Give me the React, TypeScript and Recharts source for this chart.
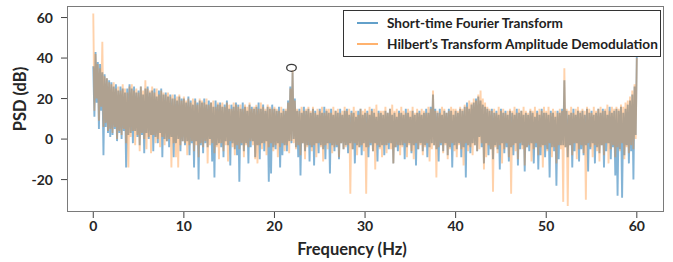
import { ComposedChart, Line, XAxis, YAxis, ReferenceDot } from 'recharts'

// PSD values (dB). "Hi" samples sit on a 0.25 Hz grid, "Lo" samples halfway between them.
const stftHi = [
  36, 43, 38, 37, 33, 32, 30, 29,
  28, 26, 27, 24, 26, 25, 23, 25,
  27, 25, 26, 23, 24, 26, 22, 25,
  26, 23, 24, 25, 21, 24, 25, 22,
  23, 21, 22, 20, 22, 19, 21, 20,
  20, 18, 21, 19, 17, 20, 18, 19,
  18, 20, 17, 19, 18, 16, 19, 17,
  18, 16, 17, 19, 15, 17, 16, 18,
  17, 15, 18, 16, 14, 17, 16, 15,
  16, 18, 15, 17, 14, 16, 15, 17,
  15, 14, 16, 13, 15, 14, 19, 26,
  33, 20, 14, 15, 13, 16, 14, 15,
  13, 15, 14, 12, 15, 13, 16, 14,
  13, 15, 12, 14, 13, 15, 12, 14,
  15, 12, 14, 13, 11, 14, 15, 12,
  13, 14, 12, 15, 13, 11, 14, 13,
  12, 14, 13, 15, 12, 13, 11, 14,
  13, 12, 15, 13, 11, 14, 12, 13,
  14, 12, 13, 15, 13, 16, 22, 15,
  13, 15, 12, 14, 13, 15, 14, 12,
  14, 13, 15, 14, 16, 18, 15, 17,
  18, 20, 21, 19, 17, 16, 15, 14,
  15, 13, 14, 12, 15, 13, 14, 12,
  14, 13, 12, 15, 13, 14, 12, 13,
  12, 14, 13, 11, 14, 12, 15, 13,
  13, 12, 14, 13, 11, 14, 13, 15,
  29, 14, 12, 13, 15, 12, 14, 13,
  14, 12, 15, 13, 14, 12, 13, 15,
  13, 15, 14, 12, 16, 13, 14, 15,
  14, 16, 13, 15, 17, 19, 22, 26,
  41,
]

const stftLo = [
  11, 18, 5, 14, -8, 6, 3, 1,
  2, 5, -1, 3, 0, 4, -14, 2,
  3, -2, 4, 1, -3, 2, -7, 3,
  0, 2, -6, 1, -2, 3, -9, 0,
  -1, -4, 1, -9, -2, 0, -6, -1,
  -3, -1, -8, -2, -14, -1, -20, -3,
  -7, -2, -4, 0, -11, -19, -3, -2,
  -4, -9, -1, -3, -13, -2, -5, -8,
  -21, -3, -6, -2, -12, -4, -1, -9,
  -3, -10, -2, -6, -1, -21, -17, -4,
  -5, -2, -14, -8, -3, -6, -1, -2,
  0, -4, -9, -18, -2, -6, -3, -11,
  -4, -13, -2, -7, -3, -5, -10, -2,
  -17, -3, -6, -4, -10, -2, -5, -3,
  -7, -2, -5, -12, -3, -4, -8, -2,
  -4, -9, -3, -6, -2, -11, -4, -3,
  -8, -3, -5, -2, -12, -4, -6, -3,
  -3, -10, -4, -2, -7, -3, -13, -5,
  -2, -6, -3, -9, -4, -2, -3, -5,
  -11, -3, -6, -2, -8, -4, -14, -3,
  -5, -2, -9, -4, -19, -3, -7, -2,
  -3, -6, 1, -4, -12, -2, -8, -5,
  -10, -3, -5, -15, -2, -7, -4, -11,
  -4, -8, -2, -13, -5, -3, -16, -4,
  -6, -2, -12, -4, -15, -8, -3, -9,
  -5, -19, -4, -6, -23, -10, -3, -3,
  -4, -9, -3, -14, -6, -2, -11, -5,
  -8, -3, -16, -5, -2, -12, -4, -7,
  -3, -14, -6, -2, -10, -4, -18, -28,
  -5, -29, -8, -3, -12, -6, -20, 2,
]

const hilbertHi = [
  62, 42, 37, 35, 48, 31, 30, 28,
  27, 28, 25, 26, 24, 27, 25, 23,
  26, 27, 24, 25, 23, 26, 24, 29,
  25, 24, 26, 23, 25, 22, 24, 23,
  22, 23, 21, 22, 20, 21, 22, 19,
  21, 19, 20, 18, 20, 19, 17, 20,
  19, 18, 20, 17, 18, 19, 16, 18,
  17, 18, 16, 18, 17, 15, 18, 17,
  16, 17, 15, 17, 16, 18, 15, 16,
  17, 15, 18, 16, 15, 17, 16, 15,
  16, 15, 14, 16, 14, 15, 18, 25,
  34, 19, 15, 14, 16, 14, 15, 16,
  14, 16, 13, 15, 14, 16, 13, 15,
  15, 13, 16, 14, 15, 13, 14, 16,
  14, 15, 13, 16, 14, 12, 15, 14,
  15, 13, 16, 14, 15, 17, 13, 14,
  14, 16, 13, 15, 17, 14, 15, 13,
  16, 14, 13, 15, 14, 16, 13, 15,
  13, 15, 14, 13, 16, 15, 24, 14,
  14, 13, 16, 15, 13, 14, 16, 15,
  15, 14, 16, 15, 17, 16, 19, 18,
  20, 19, 22, 24, 20, 18, 16, 15,
  14, 15, 13, 16, 14, 15, 13, 14,
  15, 14, 16, 13, 15, 14, 16, 14,
  13, 15, 14, 16, 13, 15, 14, 16,
  14, 16, 13, 15, 14, 13, 15, 14,
  35, 15, 14, 16, 13, 15, 16, 14,
  15, 14, 16, 15, 13, 16, 14, 15,
  16, 14, 15, 17, 14, 16, 15, 16,
  15, 17, 16, 18, 19, 21, 24, 27,
  40,
]

const hilbertLo = [
  14, 20, 9, 16, 6, 8, 4, 5,
  3, 6, 0, 4, 2, 5, -2, -14,
  1, 4, -3, 2, -6, 3, 0, -5,
  1, -7, 2, -2, 0, -4, 1, -3,
  -1, 0, -14, -2, -9, -14, -3, -1,
  -2, -8, -3, -1, -6, -3, -9, -2,
  -4, -1, -12, -3, -2, -7, -4, -10,
  -2, -6, -3, -11, -1, -4, -8, -3,
  -5, -2, -9, -3, -4, -1, -3, -10,
  -12, -3, -5, -2, -8, -4, -2, -6,
  -3, -9, -4, -2, -6, -3, -7, -1,
  -2, -5, -3, -8, -2, -10, -4, -3,
  -6, -3, -9, -2, -4, -11, -3, -5,
  -2, -7, -4, -3, -9, -2, -5, -4,
  -3, -27, -5, -2, -8, -4, -3, -6,
  -27, -4, -2, -6, -15, -3, -5, -9,
  -3, -7, -2, -5, -12, -4, -3, -8,
  -4, -2, -9, -3, -6, -10, -2, -5,
  -3, -8, -4, -2, -11, -5, -3, -19,
  -4, -2, -7, -3, -10, -5, -2, -6,
  -9, -3, -5, -13, -2, -6, -4, -8,
  -3, -6, -5, -2, -15, -9, -3, -5,
  -26, -4, -7, -3, -12, -5, -2, -9,
  -27, -3, -6, -10, -2, -5, -13, -4,
  -3, -11, -5, -2, -8, -4, -14, -3,
  -6, -2, -9, -4, -12, -3, -5, -31,
  -4, -33, -3, -8, -2, -10, -5, -3,
  -7, -30, -2, -4, -9, -3, -6, -11,
  -3, -8, -2, -12, -5, -3, -9, -4,
  -6, -2, -10, -4, -7, -3, -5, 0,
]

const step = 0.25
const xTicks = [0, 10, 20, 30, 40, 50, 60]
const yTicks = [-20, 0, 20, 40, 60]
const peakMark = { f: 21.88, v: 35.2 }

const data: Array<{ f: number; stft: number; hilbert: number }> = []
stftHi.forEach((v, i) => {
  data.push({ f: i * step, stft: v, hilbert: hilbertHi[i] })
  if (i < stftLo.length) {
    data.push({ f: i * step + step / 2, stft: stftLo[i], hilbert: hilbertLo[i] })
  }
})

const font = 'Lato, "Open Sans", sans-serif'
const tickStyle = { fill: '#262626', fontSize: 14, fontWeight: 700, fontFamily: font }

export default function App() {
  return (
    <div style={{ position: 'absolute', left: 0, top: 0, width: 673, height: 262, background: '#fff' }}>
      <ComposedChart width={673} height={262} data={data} margin={{ top: 6, right: 9, bottom: 0, left: 0 }}>
        <XAxis
          dataKey="f"
          type="number"
          domain={[-2.9, 63]}
          ticks={xTicks}
          height={50}
          axisLine={false}
          tickSize={6}
          tickMargin={3}
          tickLine={{ stroke: '#444' }}
          tick={tickStyle}
          allowDataOverflow
        />
        <YAxis
          type="number"
          domain={[-36, 65.7]}
          ticks={yTicks}
          width={67}
          axisLine={false}
          tickSize={6}
          tickMargin={8}
          tickLine={{ stroke: '#444' }}
          tick={tickStyle}
          allowDataOverflow
        />
        <Line
          dataKey="stft"
          type="linear"
          stroke="#1f77b4"
          strokeOpacity={0.55}
          strokeWidth={1.9}
          strokeLinejoin="miter"
          dot={false}
          isAnimationActive={false}
        />
        <Line
          dataKey="hilbert"
          type="linear"
          stroke="#ff7f0e"
          strokeOpacity={0.35}
          strokeWidth={1.9}
          strokeLinejoin="miter"
          dot={false}
          isAnimationActive={false}
        />
        <ReferenceDot
          x={peakMark.f}
          y={peakMark.v}
          shape={(p: any) => (
            <ellipse cx={p.cx} cy={p.cy} rx={4.8} ry={3.5} fill="none" stroke="#3a3a3a" strokeWidth={1.3} />
          )}
        />
      </ComposedChart>

      {/* axes frame */}
      <div
        style={{
          position: 'absolute',
          left: 67,
          top: 6,
          width: 597,
          height: 206,
          border: '1.5px solid #7a7a7a',
          boxSizing: 'border-box',
          pointerEvents: 'none',
        }}
      />

      {/* legend */}
      <div
        style={{
          position: 'absolute',
          left: 343,
          top: 10,
          width: 318,
          height: 47,
          border: '1px solid #333',
          boxSizing: 'border-box',
          background: '#fff',
          fontFamily: font,
          fontWeight: 700,
          fontSize: 13.6,
          color: '#222',
        }}
      >
        {[
          { label: 'Short-time Fourier Transform', color: '#1f77b4', op: 0.7, top: 12 },
          { label: 'Hilbert’s Transform Amplitude Demodulation', color: '#ff7f0e', op: 0.6, top: 33 },
        ].map((item) => (
          <div key={item.label}>
            <div
              style={{
                position: 'absolute',
                left: 13,
                top: item.top - 1,
                width: 21,
                height: 2,
                background: item.color,
                opacity: item.op,
              }}
            />
            <div style={{ position: 'absolute', left: 43, top: item.top - 9, whiteSpace: 'nowrap', lineHeight: '18px' }}>
              {item.label}
            </div>
          </div>
        ))}
      </div>

      {/* axis titles */}
      <div
        style={{
          position: 'absolute',
          left: 352,
          top: 249,
          transform: 'translate(-50%, -50%)',
          fontFamily: font,
          fontWeight: 700,
          fontSize: 16.5,
          color: '#262626',
          whiteSpace: 'nowrap',
        }}
      >
        Frequency (Hz)
      </div>
      <div
        style={{
          position: 'absolute',
          left: 20,
          top: 99,
          transform: 'translate(-50%, -50%) rotate(-90deg)',
          fontFamily: font,
          fontWeight: 700,
          fontSize: 16.5,
          color: '#262626',
          whiteSpace: 'nowrap',
        }}
      >
        PSD (dB)
      </div>
    </div>
  )
}
